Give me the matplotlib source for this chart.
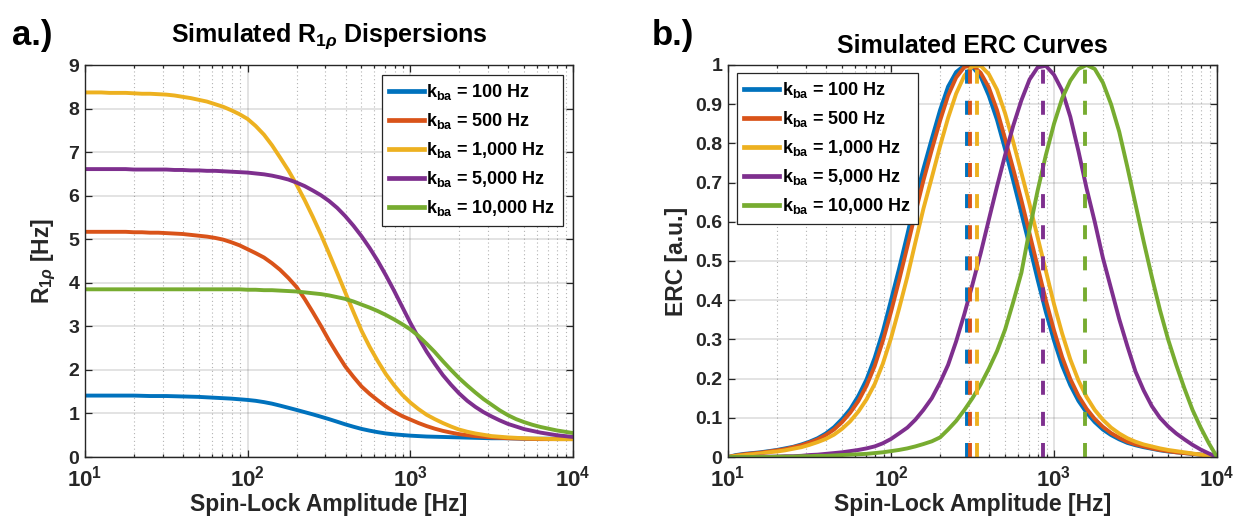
import matplotlib
matplotlib.use('Agg')
import matplotlib.pyplot as plt
from matplotlib.ticker import FixedLocator, FuncFormatter, LogLocator, NullFormatter
from matplotlib.lines import Line2D

plt.rcParams['font.family'] = ['Liberation Sans', 'DejaVu Sans']
plt.rcParams['font.weight'] = 'bold'
plt.rcParams['mathtext.fontset'] = 'custom'
plt.rcParams['mathtext.rm'] = 'Liberation Sans:bold'
plt.rcParams['mathtext.bf'] = 'Liberation Sans:bold'
plt.rcParams['mathtext.it'] = 'Liberation Sans:bold:italic'
plt.rcParams['mathtext.sf'] = 'Liberation Sans:bold'

# ---------------- data ----------------
kba_labels = ['100 Hz', '500 Hz', '1,000 Hz', '5,000 Hz', '10,000 Hz']
colors = ['#0072BD', '#D95319', '#EDB120', '#7E2F8E', '#77AC30']

# spin-lock amplitudes [Hz] (shared by both panels)
spinlock = [10, 11.2, 12.6, 14.1, 15.8, 17.8, 20.0, 22.4, 25.1, 28.2,
            31.6, 35.5, 39.8, 44.7, 50.1, 56.2, 63.1, 70.8, 79.4, 89.1,
            100, 112, 126, 141, 158, 178, 200, 224, 251, 282,
            316, 355, 398, 447, 501, 562, 631, 708, 794, 891,
            1000, 1122, 1259, 1413, 1585, 1778, 1995, 2239, 2512, 2818,
            3162, 3548, 3981, 4467, 5012, 5623, 6310, 7079, 7943, 8913, 10000]

# panel a: R1rho dispersions [Hz]
r1rho_100 = [1.41, 1.41, 1.41, 1.41, 1.41, 1.41, 1.41, 1.405, 1.40, 1.40,
             1.40, 1.395, 1.39, 1.385, 1.38, 1.37, 1.36, 1.35, 1.34, 1.325,
             1.31, 1.29, 1.26, 1.225, 1.18, 1.13, 1.08, 1.03, 0.98, 0.925,
             0.87, 0.81, 0.75, 0.695, 0.645, 0.605, 0.57, 0.54, 0.52, 0.505,
             0.49, 0.48, 0.47, 0.465, 0.46, 0.455, 0.45, 0.445, 0.44, 0.435,
             0.43, 0.43, 0.43, 0.425, 0.42, 0.42, 0.42, 0.42, 0.42, 0.42, 0.42]
r1rho_500 = [5.17, 5.17, 5.17, 5.17, 5.17, 5.17, 5.16, 5.16, 5.15, 5.15,
             5.14, 5.13, 5.12, 5.10, 5.08, 5.06, 5.03, 4.99, 4.93, 4.86,
             4.77, 4.68, 4.58, 4.45, 4.30, 4.11, 3.90, 3.63, 3.33, 3.01,
             2.68, 2.37, 2.08, 1.84, 1.62, 1.45, 1.30, 1.16, 1.04, 0.94,
             0.86, 0.78, 0.71, 0.65, 0.60, 0.56, 0.525, 0.50, 0.48, 0.465,
             0.45, 0.44, 0.43, 0.425, 0.42, 0.415, 0.41, 0.41, 0.41, 0.41, 0.41]
r1rho_1000 = [8.37, 8.37, 8.37, 8.36, 8.36, 8.36, 8.35, 8.34, 8.34, 8.33,
              8.32, 8.30, 8.27, 8.24, 8.20, 8.16, 8.10, 8.04, 7.96, 7.87,
              7.76, 7.60, 7.40, 7.16, 6.88, 6.58, 6.25, 5.90, 5.52, 5.11,
              4.68, 4.23, 3.78, 3.33, 2.90, 2.53, 2.20, 1.90, 1.65, 1.43,
              1.25, 1.10, 0.97, 0.87, 0.78, 0.70, 0.63, 0.58, 0.54, 0.51,
              0.48, 0.465, 0.45, 0.44, 0.43, 0.425, 0.42, 0.415, 0.41, 0.41, 0.41]
r1rho_5000 = [6.61, 6.61, 6.61, 6.61, 6.61, 6.61, 6.60, 6.60, 6.60, 6.60,
              6.60, 6.59, 6.59, 6.58, 6.58, 6.57, 6.57, 6.56, 6.55, 6.54,
              6.53, 6.51, 6.49, 6.46, 6.42, 6.37, 6.30, 6.22, 6.12, 6.01,
              5.88, 5.72, 5.53, 5.31, 5.07, 4.80, 4.50, 4.17, 3.82, 3.45,
              3.08, 2.74, 2.42, 2.14, 1.88, 1.66, 1.46, 1.29, 1.15, 1.03,
              0.93, 0.84, 0.76, 0.70, 0.64, 0.60, 0.56, 0.53, 0.50, 0.48, 0.46]
r1rho_10000 = [3.85, 3.85, 3.85, 3.85, 3.85, 3.85, 3.85, 3.85, 3.85, 3.85,
               3.85, 3.85, 3.85, 3.85, 3.85, 3.85, 3.85, 3.85, 3.85, 3.85,
               3.84, 3.84, 3.83, 3.83, 3.82, 3.81, 3.80, 3.78, 3.76, 3.74,
               3.71, 3.67, 3.63, 3.57, 3.50, 3.43, 3.35, 3.26, 3.16, 3.05,
               2.93, 2.78, 2.60, 2.41, 2.20, 2.00, 1.81, 1.64, 1.48, 1.33,
               1.20, 1.07, 0.96, 0.87, 0.80, 0.74, 0.69, 0.65, 0.61, 0.58, 0.55]

# panel b: ERC curves [a.u.]
erc_100 = [0.0, 0.005, 0.008, 0.010, 0.012, 0.015, 0.018, 0.022, 0.026, 0.032,
           0.039, 0.048, 0.060, 0.076, 0.097, 0.122, 0.156, 0.198, 0.253, 0.320,
           0.400, 0.480, 0.568, 0.655, 0.735, 0.812, 0.885, 0.945, 0.982, 0.999,
           0.995, 0.970, 0.922, 0.860, 0.785, 0.705, 0.622, 0.538, 0.452, 0.370,
           0.297, 0.233, 0.183, 0.143, 0.113, 0.089, 0.070, 0.056, 0.045, 0.036,
           0.030, 0.025, 0.021, 0.017, 0.014, 0.012, 0.010, 0.008, 0.006, 0.003, 0.0]
erc_500 = [0.0, 0.004, 0.007, 0.009, 0.011, 0.014, 0.017, 0.020, 0.025, 0.030,
           0.037, 0.045, 0.056, 0.070, 0.089, 0.113, 0.143, 0.182, 0.232, 0.296,
           0.370, 0.450, 0.537, 0.622, 0.705, 0.784, 0.858, 0.922, 0.968, 0.995,
           0.999, 0.980, 0.943, 0.885, 0.812, 0.735, 0.655, 0.570, 0.485, 0.400,
           0.323, 0.255, 0.199, 0.156, 0.123, 0.097, 0.077, 0.061, 0.049, 0.039,
           0.032, 0.027, 0.022, 0.018, 0.015, 0.012, 0.010, 0.008, 0.006, 0.003, 0.0]
erc_1000 = [0.0, 0.003, 0.005, 0.007, 0.009, 0.012, 0.014, 0.017, 0.021, 0.025,
            0.031, 0.038, 0.046, 0.057, 0.072, 0.091, 0.116, 0.147, 0.186, 0.238,
            0.303, 0.378, 0.460, 0.547, 0.633, 0.713, 0.793, 0.865, 0.927, 0.973,
            0.997, 0.998, 0.977, 0.937, 0.877, 0.804, 0.725, 0.645, 0.560, 0.475,
            0.390, 0.315, 0.249, 0.195, 0.153, 0.120, 0.095, 0.075, 0.060, 0.048,
            0.039, 0.032, 0.027, 0.022, 0.018, 0.015, 0.012, 0.009, 0.006, 0.003, 0.0]
erc_5000 = [0.0, 0.0, 0.0, 0.0, 0.001, 0.001, 0.001, 0.002, 0.002, 0.003,
            0.005, 0.006, 0.008, 0.010, 0.012, 0.015, 0.018, 0.022, 0.027, 0.035,
            0.046, 0.060, 0.075, 0.095, 0.120, 0.150, 0.190, 0.235, 0.295, 0.365,
            0.440, 0.520, 0.605, 0.690, 0.770, 0.845, 0.910, 0.963, 0.994, 0.998,
            0.975, 0.935, 0.868, 0.780, 0.685, 0.600, 0.508, 0.430, 0.352, 0.283,
            0.218, 0.170, 0.130, 0.100, 0.078, 0.060, 0.045, 0.031, 0.019, 0.009, 0.0]
erc_10000 = [0.0, 0.0, 0.0, 0.0, 0.0, 0.0, 0.001, 0.001, 0.001, 0.002,
             0.002, 0.003, 0.003, 0.004, 0.005, 0.006, 0.007, 0.008, 0.010, 0.012,
             0.015, 0.018, 0.022, 0.027, 0.033, 0.040, 0.050, 0.070, 0.092, 0.120,
             0.150, 0.185, 0.225, 0.270, 0.325, 0.395, 0.470, 0.580, 0.680, 0.770,
             0.850, 0.915, 0.960, 0.990, 1.000, 0.990, 0.955, 0.900, 0.830, 0.740,
             0.645, 0.550, 0.460, 0.375, 0.300, 0.235, 0.175, 0.120, 0.075, 0.035, 0.0]
# ERC maxima (dashed markers) [Hz]
erc_peaks = [293, 305, 338, 855, 1545]

r1rho_series = [r1rho_100, r1rho_500, r1rho_1000, r1rho_5000, r1rho_10000]
erc_series = [erc_100, erc_500, erc_1000, erc_5000, erc_10000]

# ---------------- figure ----------------
W, H = 1233, 517
fig = plt.figure(figsize=(W / 100, H / 100), dpi=100)
axA = fig.add_axes([85 / W, 1 - 457 / H, 488 / W, 392 / H])
axB = fig.add_axes([728 / W, 1 - 457 / H, 489 / W, 392 / H])

dark = '#262626'
LW = 2.8
LEG_FS = 13


def style(ax):
    ax.set_xscale('log')
    ax.set_xlim(10, 1e4)
    ax.xaxis.set_major_locator(FixedLocator([10, 100, 1000, 10000]))
    ax.xaxis.set_minor_locator(LogLocator(base=10, subs=range(2, 10), numticks=20))
    ax.xaxis.set_minor_formatter(NullFormatter())
    ax.grid(True, which='major', color=dark, alpha=0.15, lw=1.2, ls='-')
    ax.grid(True, which='minor', axis='x', color=dark, alpha=0.35, lw=0.8, ls=(0, (1, 2.5)))
    ax.set_axisbelow(True)
    ax.tick_params(which='both', direction='in', top=True, right=True, color=dark,
                   labelcolor=dark, width=0.9)
    ax.tick_params(which='major', length=5)
    ax.tick_params(which='minor', length=2.5)
    ax.tick_params(axis='x', labelsize=16, pad=6)
    ax.tick_params(axis='y', labelsize=14, pad=4)
    for s in ax.spines.values():
        s.set_color(dark)
        s.set_linewidth(1.0)


def legend_labels():
    return [r'$\mathrm{k_{ba}}$ = ' + t for t in kba_labels]


handles = [Line2D([], [], color=c, lw=LW + 0.6) for c in colors]
leg_kw = dict(borderaxespad=0, fancybox=False, framealpha=1, edgecolor=dark,
              fontsize=LEG_FS, handlelength=1.95, handletextpad=0.12, borderpad=0.4,
              labelspacing=0.5)

# panel a
style(axA)
for y, c in zip(r1rho_series, colors):
    axA.plot(spinlock, y, color=c, lw=LW)
axA.set_ylim(0, 9)
axA.yaxis.set_major_locator(FixedLocator(range(0, 10)))
axA.yaxis.set_major_formatter(FuncFormatter(lambda v, p: '%g' % v))
legA = axA.legend(handles, legend_labels(), loc='upper right',
                  bbox_to_anchor=(0.9795, 0.9745), **leg_kw)
legA.get_frame().set_linewidth(0.9)
axA.text(0.5, 1.058, r'Simulated $\mathrm{R}_{\mathrm{1}\mathit{\rho}}$ Dispersions',
         transform=axA.transAxes, ha='center', va='baseline', fontsize=18)

# panel b
style(axB)
for y, c in zip(erc_series, colors):
    axB.plot(spinlock, y, color=c, lw=LW)
for xp, c in zip(erc_peaks, colors):
    axB.plot([xp, xp], [0, 1], color=c, lw=LW, ls=(0, (3.6, 4.4)))
axB.set_ylim(0, 1)
axB.yaxis.set_major_locator(FixedLocator([i / 10 for i in range(11)]))
axB.yaxis.set_major_formatter(FuncFormatter(lambda v, p: '%g' % round(v, 1)))
legB = axB.legend(handles, legend_labels(), loc='upper left',
                  bbox_to_anchor=(0.0184, 0.9796), **leg_kw)
legB.get_frame().set_linewidth(0.9)
axB.text(0.5, 1.031, 'Simulated ERC Curves', transform=axB.transAxes,
         ha='center', va='baseline', fontsize=18)

# axis labels
fig.text((85 + 244) / W, 6 / H, 'Spin-Lock Amplitude [Hz]', ha='center', va='baseline',
         fontsize=16.5, color=dark)
fig.text((728 + 244.5) / W, 6 / H, 'Spin-Lock Amplitude [Hz]', ha='center', va='baseline',
         fontsize=16.5, color=dark)
fig.text(44 / W, 1 - 261 / H, r'$\mathrm{R}_{\mathrm{1}\mathit{\rho}}$ [Hz]', rotation=90,
         ha='center', va='center', fontsize=16.5, color=dark)
fig.text(677 / W, 1 - 261 / H, 'ERC [a.u.]', rotation=90, ha='center', va='center',
         fontsize=16.5, color=dark)

# panel letters
fig.text(12 / W, 1 - 36 / H, 'a.)', ha='left', va='center', fontsize=25)
fig.text(652 / W, 1 - 36 / H, 'b.)', ha='left', va='center', fontsize=25)

fig.savefig('out.png', dpi=100)
